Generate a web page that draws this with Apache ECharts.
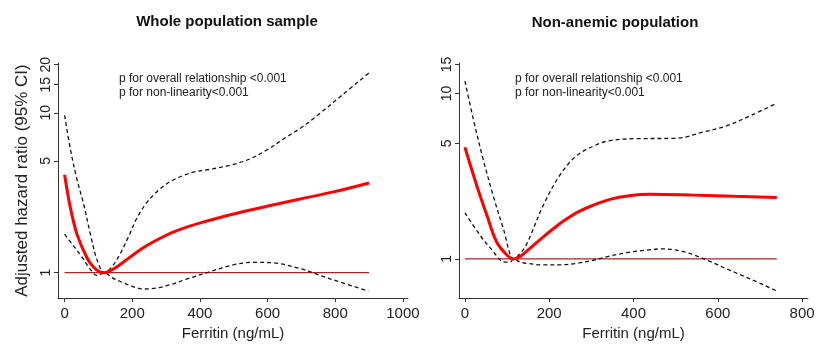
<!DOCTYPE html>
<html>
<head>
<meta charset="utf-8">
<script src="https://cdn.jsdelivr.net/npm/echarts@6/dist/echarts.min.js"></script>
<style>html,body{margin:0;padding:0;background:#fff}#c{width:822px;height:346px}</style>
</head>
<body>
<div id="c"></div>
<script>
// Left panel: Whole population sample  [ferritin, HR]
var wholeHR = [[0,4.1],[17,2.55],[37,1.73],[66,1.24],[86,1.08],[104,1.01],[118,1.0],[135,1.03],[155,1.09],[180,1.19],[204,1.30],[235,1.44],[263,1.56],[302,1.72],[332,1.83],[365,1.94],[401,2.05],[500,2.33],[598,2.6],[700,2.9],[795,3.2],[900,3.64]];
var wholeUpper = [[0,9.65],[17,5.95],[37,3.8],[56,2.7],[76,1.75],[96,1.2],[118,1.0],[140,1.09],[165,1.32],[190,1.7],[214,2.2],[243,2.75],[273,3.21],[302,3.6],[332,3.9],[380,4.25],[430,4.43],[490,4.7],[549,5.16],[600,5.9],[647,6.86],[700,8.1],[745,9.55],[820,12.9],[900,17.8]];
var wholeLower = [[0,1.74],[23,1.5],[46,1.30],[76,1.05],[96,0.96],[118,1.0],[140,0.93],[165,0.88],[200,0.82],[233,0.79],[270,0.80],[312,0.84],[360,0.91],[421,1.0],[499,1.12],[560,1.16],[620,1.15],[696,1.06],[750,0.97],[795,0.90],[898,0.766]];
// Right panel: Non-anemic population
var nonHR = [[0,4.73],[28,2.78],[52,1.84],[75,1.27],[99,1.06],[115,1.0],[130,1.03],[146,1.11],[186,1.36],[215,1.56],[241,1.74],[270,1.93],[304,2.11],[344,2.29],[390,2.41],[439,2.46],[542,2.43],[640,2.39],[740,2.35]];
var nonUpper = [[0,11.9],[20,7.0],[43,4.03],[67,2.42],[91,1.53],[116,1.0],[130,1.07],[146,1.22],[186,2.11],[225,3.2],[265,4.21],[312,4.9],[344,5.19],[400,5.33],[502,5.36],[560,5.8],[621,6.38],[680,7.4],[740,8.73]];
var nonLower = [[0,1.90],[36,1.39],[67,1.11],[91,0.96],[107,0.955],[116,1.0],[130,0.96],[146,0.94],[186,0.92],[225,0.92],[265,0.94],[304,0.98],[336,1.03],[384,1.09],[430,1.13],[470,1.15],[510,1.12],[542,1.06],[580,0.97],[621,0.87],[680,0.75],[740,0.64]];
var refWhole = [[0,1],[900,1]];
var refNon = [[0,1],[740,1]];
// Tick labels
var xTicksWhole = [0,200,400,600,800,1000];
var xTicksNon = [0,200,400,600,800];
var yTicksWhole = [1,5,10,15,20];
var yTicksNon = [1,5,10,15];
var titles = ['Whole population sample','Non-anemic population'];
var pText = 'p for overall relationship <0.001\np for non-linearity<0.001';

var FONT = 'Liberation Sans, Arial, sans-serif';
function xAxis(idx, min, max, ticks){
  return {type:'value', gridIndex:idx, min:min, max:max,
    name:'Ferritin (ng/mL)', nameLocation:'middle', nameGap:28,
    nameTextStyle:{fontFamily:FONT,fontSize:15,color:'#222'},
    axisLine:{show:true,onZero:false,lineStyle:{color:'#333',width:1}},
    axisTick:{show:true,length:4,customValues:ticks,lineStyle:{color:'#333'}},
    axisLabel:{customValues:ticks,fontFamily:FONT,fontSize:15,color:'#222',margin:8,
      formatter:function(v){return String(Math.round(v));}},
    splitLine:{show:false}};
}
function yAxis(idx, min, max, ticks, name){
  return {type:'log', logBase:10, gridIndex:idx, min:min, max:max,
    name:name, nameLocation:'middle', nameGap:27,
    nameTextStyle:{fontFamily:FONT,fontSize:17,color:'#222'},
    axisLine:{show:true,onZero:false,lineStyle:{color:'#333',width:1}},
    axisTick:{show:true,length:4,customValues:ticks,lineStyle:{color:'#333'}},
    axisLabel:{customValues:ticks,rotate:90,fontFamily:FONT,fontSize:14,color:'#222',margin:5,
      formatter:function(v){return String(Math.round(v));}},
    splitLine:{show:false}};
}
function line(name, data, xi, yi, type){
  var s = {name:name,type:'line',xAxisIndex:xi,yAxisIndex:yi,data:data,showSymbol:false,symbol:'none',
    smooth:0.35, animation:false, silent:true, z:3};
  if(type==='hr') s.lineStyle={color:'#ff0000',width:3};
  else if(type==='ci') s.lineStyle={color:'#111',width:1.3,type:[4,3]};
  else {s.lineStyle={color:'#a0282a',width:1.2}; s.smooth=false; s.z=2;}
  return s;
}
var chart = echarts.init(document.getElementById('c'));
chart.setOption({
  backgroundColor:'#fff',
  animation:false,
  title:[
    {text:titles[0],left:222,top:9,textAlign:'center',textStyle:{fontFamily:FONT,fontSize:15,fontWeight:'bold',color:'#111'}},
    {text:titles[1],left:610,top:10,textAlign:'center',textStyle:{fontFamily:FONT,fontSize:15,fontWeight:'bold',color:'#111'}}
  ],
  graphic:[
    {type:'text',left:119,top:71,style:{text:pText,fontFamily:FONT,fontSize:12,lineHeight:14.5,fill:'#222'}},
    {type:'text',left:515,top:71,style:{text:pText,fontFamily:FONT,fontSize:12,lineHeight:14.5,fill:'#222'}}
  ],
  grid:[
    {left:58,top:63,width:350,height:238},
    {left:459,top:63,width:349,height:237}
  ],
  xAxis:[xAxis(0,-19.5,1015,xTicksWhole), xAxis(1,-14,814,xTicksNon)],
  yAxis:[yAxis(0,0.694,20.5,yTicksWhole,'Adjusted hazard ratio (95% CI)'), yAxis(1,0.58,15.3,yTicksNon,'')],
  series:[
    line('ref',refWhole,0,0,'ref'),
    line('upper',wholeUpper,0,0,'ci'),
    line('lower',wholeLower,0,0,'ci'),
    line('HR',wholeHR,0,0,'hr'),
    line('ref',refNon,1,1,'ref'),
    line('upper',nonUpper,1,1,'ci'),
    line('lower',nonLower,1,1,'ci'),
    line('HR',nonHR,1,1,'hr')
  ]
});
</script>
</body>
</html>
